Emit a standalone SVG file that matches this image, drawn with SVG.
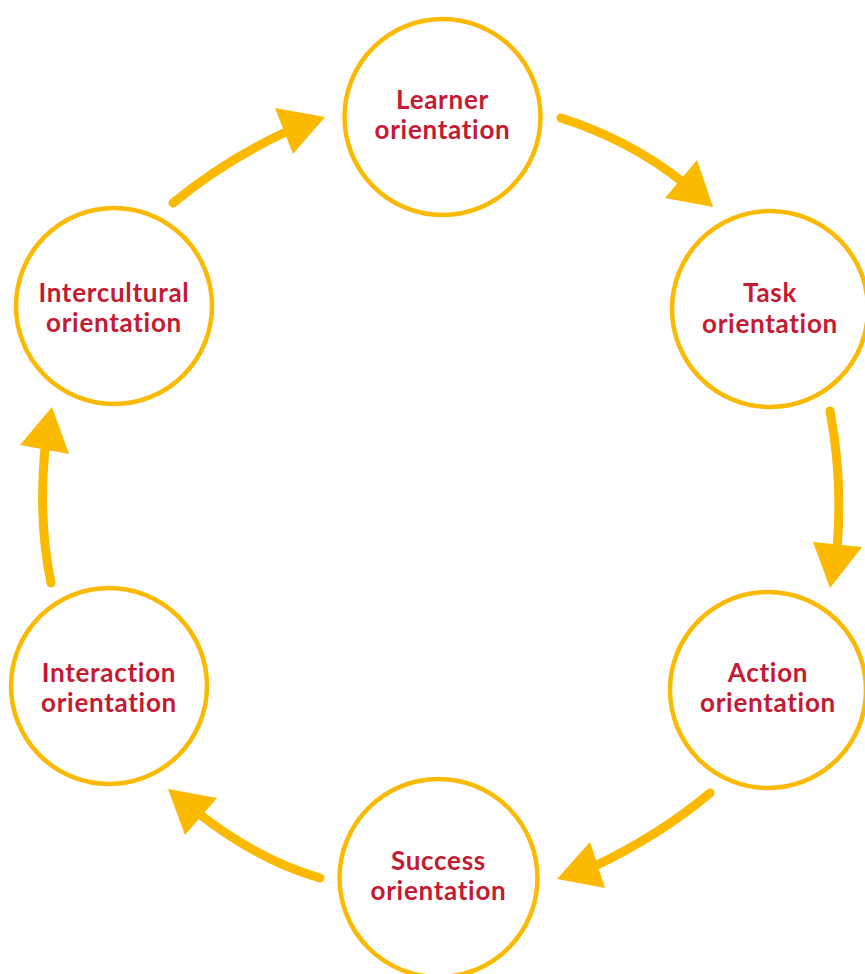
<svg xmlns="http://www.w3.org/2000/svg" width="865" height="974" viewBox="0 0 865 974">
<style>
.node circle{fill:#fff;stroke:#FBB900;stroke-width:4.5}
.node text{font-family:Lato,"Open Sans","Liberation Sans",sans-serif;font-weight:bold;font-size:26px;letter-spacing:0.7px;font-variant-ligatures:none;fill:#C41A32;text-anchor:middle}
.conn path{fill:none;stroke:#FBB900;stroke-width:9;stroke-linecap:round}
.conn polygon{fill:#FBB900}
</style>
<rect width="865" height="974" fill="#fff"/>
<g id="connectors" class="conn">
<path d="M561,118 Q630,140 684,183"/>
<polygon points="697,160 713,207 665,198"/>
<path d="M830,411 Q843,480 837,548"/>
<polygon points="813,542 862,547 830,588"/>
<path d="M710,793 Q660,835 595,866"/>
<polygon points="590,842 557,879 605,888"/>
<path d="M320,878 Q258,860 198,813"/>
<polygon points="168,789 217,798 185,835"/>
<path d="M51,583 Q38,520 45,448"/>
<polygon points="52,407 20,445 69,454"/>
<path d="M173,203 Q225,160 288,131"/>
<polygon points="325,117 275,108 293,154"/>
</g>
<g id="learner" class="node">
<circle cx="442.5" cy="117" r="98"/>
<text x="442.5" y="109">Learner</text>
<text x="442.5" y="139">orientation</text>
</g>
<g id="task" class="node">
<circle cx="770" cy="309" r="98"/>
<text x="770" y="302">Task</text>
<text x="770" y="333">orientation</text>
</g>
<g id="action" class="node">
<circle cx="768" cy="690" r="98"/>
<text x="768" y="682">Action</text>
<text x="768" y="712">orientation</text>
</g>
<g id="success" class="node">
<circle cx="438.5" cy="878" r="99"/>
<text x="438.5" y="870">Success</text>
<text x="438.5" y="900">orientation</text>
</g>
<g id="interaction" class="node">
<circle cx="109" cy="686" r="98"/>
<text x="109" y="682">Interaction</text>
<text x="109" y="712">orientation</text>
</g>
<g id="intercultural" class="node">
<circle cx="114" cy="306" r="98"/>
<text x="114" y="302">Intercultural</text>
<text x="114" y="332">orientation</text>
</g>
</svg>
